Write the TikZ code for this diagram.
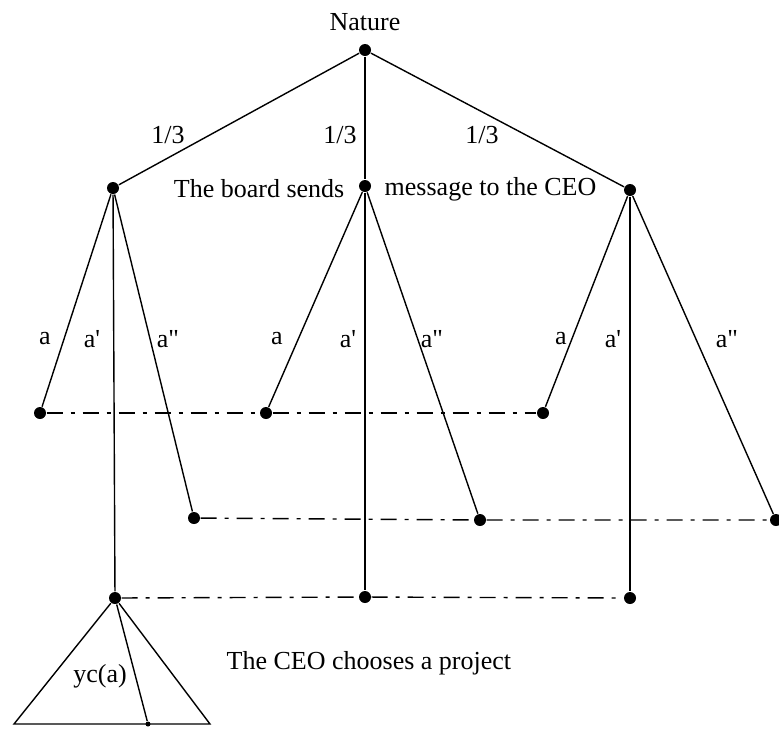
\documentclass[tikz,border=0pt]{standalone}
\usepackage{fontspec}
\setmainfont{Liberation Serif}
\tikzset{
  dot/.style={circle,fill,inner sep=0pt,minimum size=6pt},
  smalldot/.style={circle,fill,inner sep=0pt,minimum size=2.5pt},
  infoset/.style={dash pattern=on 8pt off 4pt on 2pt off 4pt},
  lbl/.style={font=\fontsize{13}{15}\selectfont,inner sep=1pt}
}
\begin{document}
\begin{tikzpicture}[x=0.5pt,y=-0.5pt,line width=0.7pt]
	\useasboundingbox (0,0) rectangle (779,729);

	% nature and the three states
	\node[dot] (nat) at (365,50) {};
	\node[lbl] (natlbl) at (365,22) {Nature};
	\node[dot] (sL) at (113,188) {};
	\node[dot] (sM) at (365,186) {};
	\node[dot] (sR) at (630,190) {};

	\draw (nat) -- (sL);
	\draw (nat) -- (sM);
	\draw (nat) -- (sR);
	\node[lbl] (pL) at (168,135) {1/3};
	\node[lbl] (pM) at (340,135) {1/3};
	\node[lbl] (pR) at (482,135) {1/3};

	\node[lbl,anchor=east] (board) at (347,189) {The board sends};
	\node[lbl,anchor=west] (msg) at (382,189) {message to the CEO};

	% messages a, a', a''
	\node[dot] (aL) at (40,413) {};
	\node[dot] (aM) at (266,413) {};
	\node[dot] (aR) at (543,413) {};
	\node[dot] (bL) at (194,518) {};
	\node[dot] (bM) at (480,520) {};
	\node[dot] (bR) at (776,520) {};
	\node[dot] (cL) at (115,598) {};
	\node[dot] (cM) at (365,597) {};
	\node[dot] (cR) at (630,598) {};

	\draw (sL) -- (aL);
	\draw (sL) -- (cL);
	\draw (sL) -- (bL);
	\draw (sM) -- (aM);
	\draw (sM) -- (cM);
	\draw (sM) -- (bM);
	\draw (sR) -- (aR);
	\draw (sR) -- (cR);
	\draw (sR) -- (bR);

	\node[lbl] (laL) at (45,339) {a};
	\node[lbl] (lcL) at (92,339) {a\textquotesingle};
	\node[lbl] (lbL) at (168,339) {a\textquotedbl};
	\node[lbl] (laM) at (277,339) {a};
	\node[lbl] (lcM) at (348,339) {a\textquotesingle};
	\node[lbl] (lbM) at (432,339) {a\textquotedbl};
	\node[lbl] (laR) at (561,339) {a};
	\node[lbl] (lcR) at (613,339) {a\textquotesingle};
	\node[lbl] (lbR) at (727,339) {a\textquotedbl};

	% information sets
	\draw[infoset] (aL) -- (aM) -- (aR);
	\draw[infoset] (bL) -- (bM) -- (bR);
	\draw[infoset] (cL) -- (cM) -- (cR);

	% project choice
	\coordinate (tl) at (14,724);
	\coordinate (tr) at (210,724);
	\node[smalldot] (yc) at (148,724) {};
	\draw (cL) -- (tl) -- (tr) -- (cL);
	\draw (cL) -- (yc);
	\node[lbl] (yclbl) at (100,676) {yc(a)};
	\node[lbl,anchor=west] (choose) at (224,663) {The CEO chooses a project};

	\end{tikzpicture}
\end{document}
